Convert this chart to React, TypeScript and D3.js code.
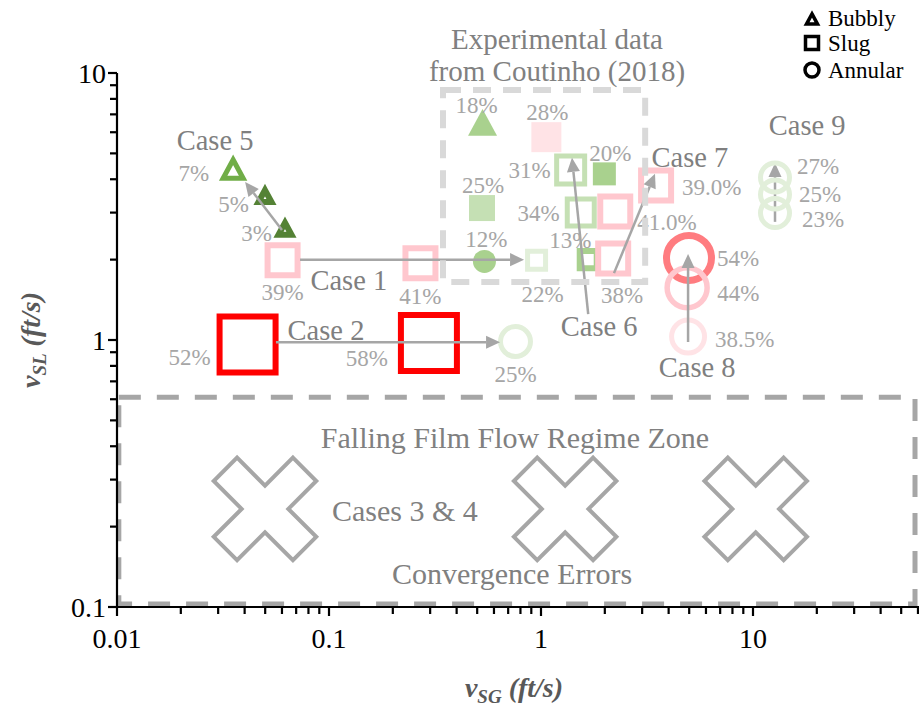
import React from "react";
import * as d3 from "d3";

type Regime = "bubbly" | "slug" | "annular";

interface Pt {
  vsg: number;
  vsl: number;
  regime: Regime;
  pct: string;
}

interface Sty {
  color: string;
  fill?: boolean;
  size: number; // path size (width for square/triangle, radius for circle)
  sw: number;
  lx: number;
  ly: number;
  anchor: "start" | "middle" | "end";
}

// ---- data (superficial velocities in ft/s) ----
const CASE5: Pt[] = [
  { vsg: 0.0353, vsl: 4.37, regime: "bubbly", pct: "7%" },
  { vsg: 0.0499, vsl: 3.46, regime: "bubbly", pct: "5%" },
  { vsg: 0.062, vsl: 2.61, regime: "bubbly", pct: "3%" },
];
const CASE1: Pt[] = [
  { vsg: 0.0604, vsl: 1.99, regime: "slug", pct: "39%" },
  { vsg: 0.27, vsl: 1.94, regime: "slug", pct: "41%" },
  { vsg: 0.953, vsl: 1.99, regime: "slug", pct: "22%" },
];
const CASE2: Pt[] = [
  { vsg: 0.0413, vsl: 0.962, regime: "slug", pct: "52%" },
  { vsg: 0.296, vsl: 0.974, regime: "slug", pct: "58%" },
  { vsg: 0.758, vsl: 0.987, regime: "annular", pct: "25%" },
];
const EXPERIMENTAL: Pt[] = [
  { vsg: 0.53, vsl: 6.53, regime: "bubbly", pct: "18%" },
  { vsg: 1.06, vsl: 5.75, regime: "slug", pct: "28%" },
  { vsg: 0.527, vsl: 3.12, regime: "slug", pct: "25%" },
  { vsg: 0.541, vsl: 1.97, regime: "annular", pct: "12%" },
  { vsg: 1.38, vsl: 4.33, regime: "slug", pct: "31%" },
  { vsg: 1.99, vsl: 4.19, regime: "slug", pct: "20%" },
  { vsg: 1.54, vsl: 3.0, regime: "slug", pct: "34%" },
  { vsg: 1.67, vsl: 2.0, regime: "slug", pct: "13%" },
];
const CASE7: Pt[] = [
  { vsg: 2.19, vsl: 2.02, regime: "slug", pct: "38%" },
  { vsg: 2.24, vsl: 3.03, regime: "slug", pct: "41.0%" },
  { vsg: 3.49, vsl: 3.79, regime: "slug", pct: "39.0%" },
];
const CASE8: Pt[] = [
  { vsg: 4.99, vsl: 2.03, regime: "annular", pct: "54%" },
  { vsg: 4.89, vsl: 1.57, regime: "annular", pct: "44%" },
  { vsg: 4.94, vsl: 1.03, regime: "annular", pct: "38.5%" },
];
const CASE9: Pt[] = [
  { vsg: 12.7, vsl: 4.06, regime: "annular", pct: "27%" },
  { vsg: 12.7, vsl: 3.51, regime: "annular", pct: "25%" },
  { vsg: 12.7, vsl: 2.99, regime: "annular", pct: "23%" },
];
// Cases 3 & 4: falling film, no regime (convergence errors)
const FALLING_VSG = [0.0499, 1.3, 10.3];
const FALLING_VSL = [0.233, 0.233, 0.233];

// arrows: [from vsg, from vsl, to vsg, to vsl]
const ARROWS: [number, number, number, number][] = [
  [0.06, 2.58, 0.0402, 3.91], // case 5
  [0.073, 2.0, 0.832, 2.0], // case 1
  [0.0562, 0.98, 0.641, 0.98], // case 2
  [1.67, 1.25, 1.4, 4.81], // case 6
  [2.21, 1.78, 3.45, 4.19], // case 7
  [4.94, 0.983, 4.94, 2.1], // case 8
];
const ARROW_CASE9: [number, number, number, number] = [12.7, 2.77, 12.7, 4.6];

const CASE_LABELS = ["Case 5", "Case 1", "Case 2", "Case 6", "Case 7", "Case 8", "Case 9"];
const CASE_LABEL_VSG = [0.029, 0.124, 0.0968, 1.88, 5.04, 5.45, 18.0];
const CASE_LABEL_VSL = [5.61, 1.68, 1.09, 1.13, 4.85, 0.792, 6.39];

const EXP_BOX = { vsg: [0.345, 3.1], vsl: [1.65, 8.64] };
const ZONE_BOX = { vsg: [0.0102, 58.1], vsl: [0.1026, 0.611] };

const X_TICKS = [0.01, 0.1, 1, 10];
const X_TICK_LABELS = ["0.01", "0.1", "1", "10"];
const Y_TICKS = [0.1, 1, 10];
const Y_TICK_LABELS = ["0.1", "1", "10"];

// ---- styles ----
const GREEN_D = "#548235";
const GREEN_M = "#70AD47";
const GREEN_L = "#A9D18E";
const GREEN_LL = "#C5E0B4";
const GREEN_XL = "#E2EFDA";
const PINK = "#FFC7CE";
const PINK_L = "#FFE3E6";
const RED = "#FF0000";
const SALMON = "#FF7C80";

const CASE5_STY: Sty[] = [
  { color: GREEN_M, size: 20, sw: 5, lx: -24, ly: 4, anchor: "end" },
  { color: GREEN_D, size: 13, sw: 6, lx: -16, ly: 8, anchor: "end" },
  { color: GREEN_D, size: 13, sw: 6, lx: -13, ly: 4, anchor: "end" },
];
const CASE1_STY: Sty[] = [
  { color: PINK, size: 30, sw: 6, lx: 0, ly: 32, anchor: "middle" },
  { color: PINK, size: 30, sw: 6, lx: 0, ly: 33, anchor: "middle" },
  { color: GREEN_XL, size: 18, sw: 5, lx: 6, ly: 34, anchor: "middle" },
];
const CASE2_STY: Sty[] = [
  { color: RED, size: 56, sw: 6, lx: -37, ly: 12, anchor: "end" },
  { color: RED, size: 56, sw: 6, lx: -41, ly: 15, anchor: "end" },
  { color: GREEN_XL, size: 15, sw: 5, lx: 0, ly: 32, anchor: "middle" },
];
const EXP_STY: Sty[] = [
  { color: GREEN_L, fill: true, size: 29, sw: 0, lx: -6, ly: -17, anchor: "middle" },
  { color: PINK_L, fill: true, size: 30, sw: 0, lx: 1, ly: -25, anchor: "middle" },
  { color: GREEN_LL, fill: true, size: 26, sw: 0, lx: 1, ly: -23, anchor: "middle" },
  { color: GREEN_L, fill: true, size: 11.5, sw: 0, lx: 2, ly: -22, anchor: "middle" },
  { color: GREEN_LL, size: 28, sw: 5, lx: -20, ly: 0, anchor: "end" },
  { color: GREEN_L, fill: true, size: 23, sw: 0, lx: 6, ly: -21, anchor: "middle" },
  { color: GREEN_LL, size: 27, sw: 5, lx: -21, ly: 0, anchor: "end" },
  { color: GREEN_L, size: 17, sw: 6, lx: -18, ly: -20, anchor: "middle" },
];
const CASE7_STY: Sty[] = [
  { color: PINK, size: 30, sw: 6, lx: 9, ly: 36, anchor: "middle" },
  { color: PINK, size: 30, sw: 6, lx: 22, ly: 10, anchor: "start" },
  { color: PINK, size: 30, sw: 6, lx: 26, ly: 1, anchor: "start" },
];
const CASE8_STY: Sty[] = [
  { color: SALMON, size: 22.5, sw: 7, lx: 28, ly: 0, anchor: "start" },
  { color: PINK, size: 20, sw: 5.5, lx: 30, ly: 5, anchor: "start" },
  { color: PINK_L, size: 16.5, sw: 5, lx: 27, ly: 2, anchor: "start" },
];
const CASE9_STY: Sty[] = [
  { color: GREEN_XL, size: 14.5, sw: 5, lx: 22, ly: -12, anchor: "start" },
  { color: GREEN_XL, size: 14.5, sw: 5, lx: 24, ly: 0, anchor: "start" },
  { color: GREEN_XL, size: 14.5, sw: 5, lx: 27, ly: 6, anchor: "start" },
];

const SERIF = "'Liberation Serif', 'Times New Roman', serif";
const ARROW_COLOR = "#A6A6A6";

const W = 919;
const H = 707;

const x = d3.scaleLog().domain([0.01, 100]).range([117, 965]);
const y = d3.scaleLog().domain([0.1, 10]).range([607, 73]);

function markerPath(regime: Regime, cx: number, cy: number, s: number): string {
  if (regime === "annular") {
    const p = d3.path();
    p.arc(cx, cy, s, 0, Math.PI * 2);
    p.closePath();
    return p.toString();
  }
  if (regime === "slug") {
    const h = s / 2;
    return `M${cx - h},${cy - h}H${cx + h}V${cy + h}H${cx - h}Z`;
  }
  const h = s * 0.46;
  return `M${cx},${cy - h}L${cx + s / 2},${cy + h}L${cx - s / 2},${cy + h}Z`;
}

function crossPath(cx: number, cy: number, w: number, L: number): string {
  const pts = [
    [-w, -L], [w, -L], [w, -w], [L, -w], [L, w], [w, w],
    [w, L], [-w, L], [-w, w], [-L, w], [-L, -w], [-w, -w],
  ];
  const c = Math.SQRT1_2;
  return (
    pts
      .map(([a, b], i) => `${i ? "L" : "M"}${cx + (a - b) * c},${cy + (a + b) * c}`)
      .join("") + "Z"
  );
}

const Arrow: React.FC<{ a: [number, number, number, number] }> = ({ a }) => {
  const x1 = x(a[0]), y1 = y(a[1]), x2 = x(a[2]), y2 = y(a[3]);
  const ang = Math.atan2(y2 - y1, x2 - x1);
  const hl = 14, hw = 6.5;
  const bx = x2 - hl * Math.cos(ang), by = y2 - hl * Math.sin(ang);
  const px = -Math.sin(ang) * hw, py = Math.cos(ang) * hw;
  return (
    <g>
      <line x1={x1} y1={y1} x2={bx} y2={by} stroke={ARROW_COLOR} strokeWidth={2.5} />
      <path d={`M${x2},${y2}L${bx + px},${by + py}L${bx - px},${by - py}Z`} fill={ARROW_COLOR} />
    </g>
  );
};

const Markers: React.FC<{ pts: Pt[]; sty: Sty[] }> = ({ pts, sty }) => (
  <g>
    {pts.map((p, i) => {
      const s = sty[i];
      return (
        <path
          key={i}
          d={markerPath(p.regime, x(p.vsg), y(p.vsl), s.size)}
          fill={s.fill ? s.color : "none"}
          stroke={s.fill ? "none" : s.color}
          strokeWidth={s.sw}
        />
      );
    })}
  </g>
);

const PctLabels: React.FC<{ pts: Pt[]; sty: Sty[] }> = ({ pts, sty }) => (
  <g fontSize={23} fill="#A6A6A6" fontFamily={SERIF}>
    {pts.map((p, i) => (
      <text
        key={i}
        x={x(p.vsg) + sty[i].lx}
        y={y(p.vsl) + sty[i].ly}
        dy="0.35em"
        textAnchor={sty[i].anchor}
      >
        {p.pct}
      </text>
    ))}
  </g>
);

const GROUPS: [Pt[], Sty[]][] = [
  [EXPERIMENTAL, EXP_STY],
  [CASE1, CASE1_STY],
  [CASE2, CASE2_STY],
  [CASE5, CASE5_STY],
  [CASE7, CASE7_STY],
  [CASE8, CASE8_STY],
];

function minorTicks(lo: number, hi: number): number[] {
  const out: number[] = [];
  for (let d = lo; d < hi; d *= 10) for (let k = 2; k <= 9; k++) out.push(d * k);
  return out;
}

export default function App() {
  const x0 = x(0.01), yB = y(0.1);
  const xMinor = minorTicks(0.01, 100);
  const yMinor = minorTicks(0.1, 10);

  return (
    <div style={{ position: "absolute", left: 0, top: 0 }}>
      <svg width={W} height={H} style={{ display: "block", background: "#fff" }} fontFamily={SERIF}>
        {/* falling film marks */}
        {FALLING_VSG.map((v, i) => (
          <path key={i} d={crossPath(x(v), y(FALLING_VSL[i]), 16.5, 56)} fill="#fff" stroke="#A6A6A6" strokeWidth={4} />
        ))}
        <g fontSize={30} fill="#808080" textAnchor="middle">
          <text x={x(0.754)} y={y(0.43)} dy="0.35em">Falling Film Flow Regime Zone</text>
          <text x={x(0.228)} y={y(0.229)} dy="0.35em">Cases 3 &amp; 4</text>
          <text x={x(0.73)} y={y(0.134)} dy="0.35em">Convergence Errors</text>
        </g>

        {/* case 9: arrow under the circles */}
        <Arrow a={ARROW_CASE9} />
        <Markers pts={CASE9} sty={CASE9_STY} />

        {GROUPS.map(([p, s], i) => <Markers key={i} pts={p} sty={s} />)}
        {ARROWS.map((a, i) => <Arrow key={i} a={a} />)}

        {GROUPS.map(([p, s], i) => <PctLabels key={i} pts={p} sty={s} />)}
        <PctLabels pts={CASE9} sty={CASE9_STY} />

        <g fontSize={28.5} fill="#7F7F7F" textAnchor="middle">
          {CASE_LABELS.map((t, i) => (
            <text key={t} x={x(CASE_LABEL_VSG[i])} y={y(CASE_LABEL_VSL[i])} dy="0.35em">{t}</text>
          ))}
        </g>

        {/* experimental box */}
        <rect
          x={x(EXP_BOX.vsg[0])}
          y={y(EXP_BOX.vsl[1])}
          width={x(EXP_BOX.vsg[1]) - x(EXP_BOX.vsg[0])}
          height={y(EXP_BOX.vsl[0]) - y(EXP_BOX.vsl[1])}
          fill="none"
          stroke="#D9D9D9"
          strokeWidth={6}
          strokeDasharray="18 12"
        />
        <g fontSize={29} fill="#808080" textAnchor="middle">
          <text x={557} y={49}>Experimental data</text>
          <text x={557} y={81}>from Coutinho (2018)</text>
        </g>

        {/* falling film zone box */}
        <rect
          x={x(ZONE_BOX.vsg[0])}
          y={y(ZONE_BOX.vsl[1])}
          width={x(ZONE_BOX.vsg[1]) - x(ZONE_BOX.vsg[0])}
          height={y(ZONE_BOX.vsl[0]) - y(ZONE_BOX.vsl[1])}
          fill="none"
          stroke="#A6A6A6"
          strokeWidth={5}
          strokeDasharray="22 16"
        />

        {/* axes */}
        <g stroke="#000" strokeWidth={2.2}>
          <line x1={x0} y1={y(10)} x2={x0} y2={yB} />
          <line x1={x0} y1={yB} x2={W} y2={yB} />
          {X_TICKS.map(t => <line key={t} x1={x(t)} x2={x(t)} y1={yB} y2={yB + 9} />)}
          {xMinor.map(t => <line key={t} x1={x(t)} x2={x(t)} y1={yB} y2={yB + 7} />)}
          {Y_TICKS.map(t => <line key={t} x1={x0 - 9} x2={x0} y1={y(t)} y2={y(t)} />)}
          {yMinor.map(t => <line key={t} x1={x0 - 7} x2={x0} y1={y(t)} y2={y(t)} />)}
        </g>
        <g fontSize={28} fill="#000">
          {X_TICKS.map((t, i) => (
            <text key={t} x={x(t)} y={yB + 41} textAnchor="middle">{X_TICK_LABELS[i]}</text>
          ))}
          {Y_TICKS.map((t, i) => (
            <text key={t} x={x0 - 11} y={y(t)} dy="0.35em" textAnchor="end">{Y_TICK_LABELS[i]}</text>
          ))}
        </g>

        {/* axis titles */}
        <text x={514} y={697} textAnchor="middle" fontSize={28} fontWeight="bold" fontStyle="italic" fill="#595959">
          v<tspan fontSize={19} dy={6}>SG</tspan>
          <tspan dy={-6}> (ft/s)</tspan>
        </text>
        <text
          transform={`translate(40,340) rotate(-90)`}
          textAnchor="middle"
          fontSize={28}
          fontWeight="bold"
          fontStyle="italic"
          fill="#595959"
        >
          v<tspan fontSize={19} dy={6}>SL</tspan>
          <tspan dy={-6}> (ft/s)</tspan>
        </text>

        {/* legend */}
        <g stroke="#000" strokeWidth={3.5} fill="none">
          <path d={markerPath("bubbly", 812, 19, 11)} />
          <path d={markerPath("slug", 812, 43, 13)} />
          <path d={markerPath("annular", 812, 70, 7)} />
        </g>
        <g fontSize={23} fill="#000">
          <text x={828} y={26}>Bubbly</text>
          <text x={828} y={51}>Slug</text>
          <text x={828} y={78}>Annular</text>
        </g>
      </svg>
    </div>
  );
}
